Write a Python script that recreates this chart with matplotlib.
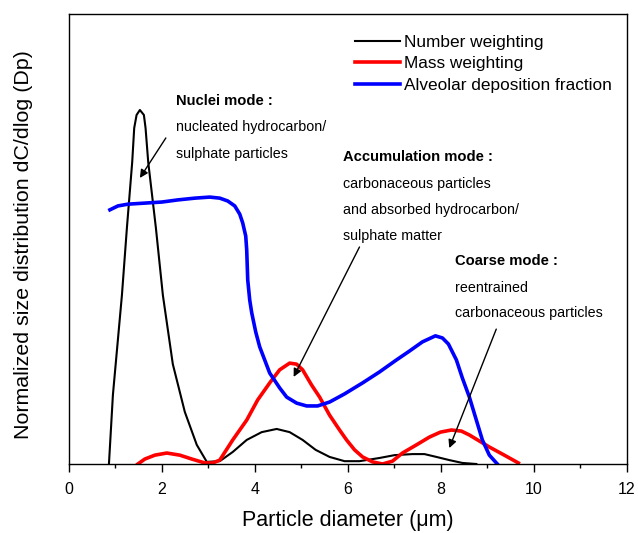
import matplotlib
matplotlib.use("Agg")
import matplotlib.pyplot as plt

plt.rcParams['font.family'] = ['Liberation Sans', 'DejaVu Sans']

# Number weighting (black)
num_x = [0.865, 0.95, 1.047, 1.144, 1.251, 1.365, 1.408, 1.459, 1.530, 1.616, 1.652, 1.709,
         1.874, 2.024, 2.238, 2.496, 2.753, 2.968, 3.247, 3.526, 3.826, 4.148, 4.470, 4.749,
         5.028, 5.307, 5.607, 5.929, 6.251, 6.680, 7.002, 7.388, 7.646, 7.903, 8.182, 8.461,
         8.762]
num_y = [0.0, 0.195, 0.336, 0.477, 0.667, 0.853, 0.949, 0.986, 1.0, 0.986, 0.949, 0.853,
         0.667, 0.477, 0.282, 0.147, 0.054, 0.006, 0.008, 0.034, 0.068, 0.090, 0.099, 0.090,
         0.068, 0.040, 0.020, 0.008, 0.008, 0.017, 0.025, 0.028, 0.028, 0.020, 0.011, 0.003,
         0.0]

# Mass weighting (red)
mass_x = [1.487, 1.637, 1.852, 2.109, 2.388, 2.646, 2.925, 3.097, 3.247, 3.526, 3.826, 4.062,
          4.320, 4.534, 4.749, 4.899, 5.028, 5.221, 5.393, 5.607, 5.822, 5.972, 6.144, 6.316,
          6.530, 6.745, 6.959, 7.174, 7.474, 7.753, 7.989, 8.225, 8.440, 8.612, 8.826, 9.041,
          9.363, 9.664]
mass_y = [0.0, 0.014, 0.025, 0.031, 0.025, 0.014, 0.003, 0.003, 0.011, 0.068, 0.124, 0.181,
          0.229, 0.266, 0.285, 0.282, 0.266, 0.223, 0.189, 0.138, 0.096, 0.068, 0.040, 0.020,
          0.006, 0.0, 0.008, 0.031, 0.054, 0.076, 0.090, 0.096, 0.093, 0.082, 0.065, 0.048,
          0.025, 0.003]

# Alveolar deposition fraction (blue)
alv_x = [0.886, 1.058, 1.272, 1.637, 2.002, 2.345, 2.710, 3.032, 3.247, 3.418, 3.569, 3.676,
         3.740, 3.805, 3.826, 3.848, 3.891, 3.934, 4.020, 4.105, 4.320, 4.534, 4.685, 4.899,
         5.114, 5.350, 5.607, 5.929, 6.316, 6.680, 7.045, 7.324, 7.603, 7.882, 8.033, 8.161,
         8.333, 8.461, 8.612, 8.762, 8.891, 9.041, 9.213]
alv_y = [0.718, 0.729, 0.734, 0.737, 0.740, 0.746, 0.751, 0.754, 0.751, 0.743, 0.729, 0.706,
         0.681, 0.644, 0.605, 0.520, 0.463, 0.427, 0.373, 0.331, 0.257, 0.215, 0.189, 0.172,
         0.164, 0.164, 0.175, 0.198, 0.229, 0.260, 0.294, 0.319, 0.345, 0.362, 0.356, 0.339,
         0.294, 0.243, 0.189, 0.124, 0.068, 0.025, 0.0]

labels = ["Number weighting", "Mass weighting", "Alveolar deposition fraction"]
x_ticks = [0, 2, 4, 6, 8, 10, 12]

fig = plt.figure(figsize=(6.38, 5.33), dpi=100)
ax = fig.add_axes([68.7/638, (533-464)/533, (627-68.7)/638, (464-14)/533])

ax.plot(num_x, num_y, color='black', lw=1.5, label=labels[0])
ax.plot(mass_x, mass_y, color='#ff0000', lw=2.6, label=labels[1])
ax.plot(alv_x, alv_y, color='#0000ff', lw=2.6, label=labels[2])

ax.set_xlim(0, 12)
ax.set_ylim(0, 450/354)
ax.set_xticks(x_ticks)
ax.set_xticks([1, 3, 5, 7, 9, 11], minor=True)
ax.set_yticks([])
ax.tick_params(axis='x', which='major', direction='out', length=6, width=1, labelsize=11.5, pad=7)
ax.tick_params(axis='x', which='minor', direction='out', length=3, width=1)
for s in ax.spines.values():
    s.set_linewidth(1.0)

ax.set_xlabel("Particle diameter (\u03bcm)", fontsize=15.5, labelpad=9)
ax.set_ylabel("Normalized size distribution dC/dlog (Dp)", fontsize=15.4)
ax.yaxis.set_label_coords(-0.064, 0.487)

leg = ax.legend(loc='upper left', bbox_to_anchor=(0.513, 0.953), frameon=False,
                fontsize=12.4, handlelength=2.6, handletextpad=0.23, labelspacing=0.36,
                borderpad=0, borderaxespad=0)

fs = 10.3
fb = 10.6
ax.text(2.30, 1.025, "Nuclei mode :", fontsize=fb, fontweight='bold', va='center', ha='left')
ax.text(2.30, 0.952, "nucleated hydrocarbon/", fontsize=fs, va='center', ha='left')
ax.text(2.30, 0.876, "sulphate particles", fontsize=fs, va='center', ha='left')

ax.text(5.89, 0.867, "Accumulation mode :", fontsize=fb, fontweight='bold', va='center', ha='left')
ax.text(5.89, 0.791, "carbonaceous particles", fontsize=fs, va='center', ha='left')
ax.text(5.89, 0.718, "and absorbed hydrocarbon/", fontsize=fs, va='center', ha='left')
ax.text(5.89, 0.644, "sulphate matter", fontsize=fs, va='center', ha='left')

ax.text(8.31, 0.573, "Coarse mode :", fontsize=fb, fontweight='bold', va='center', ha='left')
ax.text(8.31, 0.497, "reentrained", fontsize=fs, va='center', ha='left')
ax.text(8.31, 0.427, "carbonaceous particles", fontsize=fs, va='center', ha='left')

aprops = dict(arrowstyle='-|>', color='black', lw=1.0, mutation_scale=12, shrinkA=0, shrinkB=0)
ax.annotate("", xy=(1.530, 0.808), xytext=(2.088, 0.921), arrowprops=aprops)
ax.annotate("", xy=(4.835, 0.246), xytext=(6.25, 0.613), arrowprops=aprops)
ax.annotate("", xy=(8.18, 0.045), xytext=(9.19, 0.381), arrowprops=aprops)

fig.savefig("out.png", dpi=100)
